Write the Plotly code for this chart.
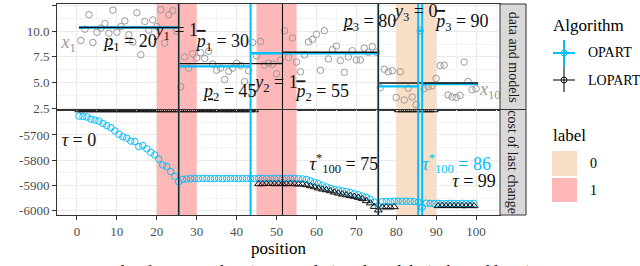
import plotly.graph_objects as go
from plotly.subplots import make_subplots

FONT = "Liberation Serif"
BLUE = "#00BFFF"
BLACK = "#111111"
GREY_PT = "#9A9A9A"
PINK = "#FFB8B8"
PEACH = "#F9DEC7"

# ---------------- data ----------------
positions = list(range(1, 101))
data_values = [9.1, 10.2, 11.6, 8.9, 9.9, 10.3, 10.75, 9.8, 12.05, 9.9,
               10.45, 11.0, 9.65, 8.95, 11.8, 7.7, 10.95, 10.1, 11.1, 10.45,
               12.1, 8.85, 11.6, 12.0, 10.0, 4.6, 7.5, 6.4, 7.8, 7.4,
               7.9, 7.35, 8.05, 6.8, 6.2, 6.4, 5.3, 6.1, 6.4, 6.9,
               6.65, 5.1, 6.15, 8.9, 7.6, 9.0, 6.7, 6.9, 6.8, 5.85,
               7.2, 10.05, 7.45, 9.35, 7.0, 6.05, 7.7, 8.95, 9.2, 9.7,
               6.2, 10.05, 7.3, 8.2, 8.55, 7.15, 6.0, 7.5, 8.1, 7.2,
               7.2, 8.35, 7.95, 8.5, 7.95, 4.5, 6.3, 6.05, 6.15, 3.55,
               6.05, 3.3, 4.45, 3.6, 2.85, 10.05, 4.4, 4.6, 4.7, 5.4,
               6.65, 6.7, 3.8, 3.6, 3.55, 3.75, 7.0, 5.1, 4.3, 4.4]

label_start = [20, 45, 80]
label_end = [30, 55, 90]
label_value = ["1", "1", "0"]
label_fill = {"0": PEACH, "1": PINK}

opart_seg_start = [0.5, 25.5, 43.5, 75.5, 85.5, 86.5]
opart_seg_end = [25.5, 43.5, 75.5, 85.5, 86.5, 100.5]
opart_seg_mean = [10.36, 6.58, 7.85, 4.63, 10.05, 4.86]
lopart_seg_start = [0.5, 25.5, 51.5, 75.5]
lopart_seg_end = [25.5, 51.5, 75.5, 100.5]
lopart_seg_mean = [10.36, 6.85, 7.95, 4.96]

opart_changes = [25.5, 43.5, 75.5, 85.5, 86.5]
lopart_changes = [25.5, 51.5, 75.5]

tau = list(range(100))
opart_cost = [-5625, -5627, -5629, -5637, -5641, -5645, -5654, -5663, -5671, -5684,
              -5697, -5707, -5713, -5724, -5726, -5746, -5742, -5755, -5769, -5779,
              -5795, -5819, -5825, -5845, -5864, -5885, -5876, -5874, -5873, -5872,
              -5873, -5872, -5872, -5873, -5872, -5872, -5873, -5872, -5872, -5872,
              -5873, -5872, -5872, -5872, -5873, -5872, -5872, -5872, -5873, -5872,
              -5872, -5872, -5873, -5872, -5872, -5873, -5874, -5876, -5882, -5888,
              -5893, -5900, -5906, -5912, -5916, -5918, -5922, -5924, -5928, -5933,
              -5937, -5942, -5947, -5955, -5966, -5980, -5964, -5963, -5964, -5962,
              -5962, -5963, -5962, -5963, -5964, -5966, -5986, -5970, -5971, -5972,
              -5971, -5972, -5972, -5971, -5972, -5972, -5971, -5972, -5972, -5971]
TOP_ROW = -5601  # infeasible changes drawn at the panel top
lopart_cost = ([TOP_ROW] * 45 +
               [-5894, -5894, -5893, -5893, -5894, -5893, -5894, -5894, -5893, -5894, -5895, -5895] +
               [-5898, -5902, -5906, -5911, -5915, -5918, -5922, -5927, -5931, -5935,
                -5938, -5941, -5944, -5948, -5953, -5961, -5970, -5984, -5998] +
               [-5986, -5985, -5986, -5985] +
               [TOP_ROW] * 10 +
               [-5981, -5980, -5981, -5980, -5981, -5980, -5981, -5981, -5980, -5981])
cost_position = [t + 0.5 for t in tau]

x_ticks = list(range(0, 101, 10))
top_ticks = [2.5, 5.0, 7.5, 10.0, 12.5]
top_tick_text = ["2.5", "5.0", "7.5", "10.0", "12.5"]
bottom_ticks = [-6000, -5900, -5800, -5700]
bottom_tick_text = ["-6000", "-5900", "-5800", "-5700"]

PBAR = '<span style="text-decoration:overline"><i>p</i></span>'
PUND = '<u><i>p</i></u>'
top_labels = [
    ("<i>x</i><sub>1</sub>", -0.3, 8.8, "middle left", GREY_PT),
    ("<i>x</i><sub>100</sub>", 101.0, 4.22, "middle right", GREY_PT),
    (PUND + "<sub>1</sub> = 20", 20, 8.9, "middle left", BLACK),
    ("<i>y</i><sub>1</sub> = 1", 25, 9.97, "middle center", BLACK),
    (PBAR + "<sub>1</sub> = 30", 30, 8.9, "middle right", BLACK),
    (PUND + "<sub>2</sub> = 45", 45, 4.0, "middle left", BLACK),
    ("<i>y</i><sub>2</sub> = 1", 50, 4.9, "middle center", BLACK),
    (PBAR + "<sub>2</sub> = 55", 55, 4.0, "middle right", BLACK),
    (PUND + "<sub>3</sub> = 80", 80, 10.85, "middle left", BLACK),
    ("<i>y</i><sub>3</sub> = 0", 85, 11.8, "middle center", BLACK),
    (PBAR + "<sub>3</sub> = 90", 90, 10.85, "middle right", BLACK),
]
bottom_labels = [
    ("<i>τ</i> = 0", 0.5, -5727, "middle center", BLACK),
    ("<i>τ</i><sup>*</sup><sub>100</sub> = 75", 75.5, -5819, "middle left", BLACK),
    ("<i>τ</i><sup>*</sup><sub>100</sub> = 86", 86.5, -5819, "middle right", BLUE),
    ("<i>τ</i> = 99", 99.5, -5889, "middle center", BLACK),
]

X_RANGE = [-5.0, 106.0]
TOP_RANGE = [2.38, 12.65]
BOTTOM_RANGE = [-6017, -5599]

# ---------------- figure ----------------
fig = make_subplots(rows=2, cols=1, shared_xaxes=True, vertical_spacing=0)

# label regions in both panels (filled polygons spanning each panel)
for s, e, v in zip(label_start, label_end, label_value):
    for r, (lo, hi) in ((1, TOP_RANGE), (2, BOTTOM_RANGE)):
        fig.add_trace(go.Scatter(x=[s, e, e, s, s], y=[lo, lo, hi, hi, lo], mode="lines",
                                 fill="toself", fillcolor=label_fill[v], line=dict(width=0),
                                 showlegend=False, hoverinfo="skip"), row=r, col=1)

# data points
fig.add_trace(go.Scatter(x=positions, y=data_values, mode="markers",
                         marker=dict(symbol="circle-open", size=6.5, color=GREY_PT,
                                     line=dict(width=1, color=GREY_PT)),
                         showlegend=False, hoverinfo="skip"), row=1, col=1)


def seg_xy(starts, ends, means):
    xs, ys = [], []
    for s, e, m in zip(starts, ends, means):
        xs += [s, e, None]
        ys += [m, m, None]
    return xs, ys


ox, oy = seg_xy(opart_seg_start, opart_seg_end, opart_seg_mean)
lx, ly = seg_xy(lopart_seg_start, lopart_seg_end, lopart_seg_mean)
fig.add_trace(go.Scatter(x=ox, y=oy, mode="lines", line=dict(color=BLUE, width=2.4),
                         showlegend=False, hoverinfo="skip"), row=1, col=1)
fig.add_trace(go.Scatter(x=lx, y=ly, mode="lines", line=dict(color=BLACK, width=1.4),
                         showlegend=False, hoverinfo="skip"), row=1, col=1)

# cost of last change
fig.add_trace(go.Scatter(x=cost_position, y=opart_cost, mode="markers",
                         marker=dict(symbol="circle-open", size=6.5, color=BLUE,
                                     line=dict(width=1, color=BLUE)),
                         showlegend=False, hoverinfo="skip"), row=2, col=1)
fig.add_trace(go.Scatter(x=cost_position, y=lopart_cost, mode="markers",
                         marker=dict(symbol="triangle-up-open", size=7, color=BLACK,
                                     line=dict(width=1, color=BLACK)),
                         showlegend=False, hoverinfo="skip"), row=2, col=1)

# changepoint vertical lines (both panels)
for cps, col, w in ((opart_changes, BLUE, 2.0), (lopart_changes, BLACK, 1.1)):
    vx = []
    for c in cps:
        vx += [c, c, None]
    for r, (lo, hi) in ((1, TOP_RANGE), (2, BOTTOM_RANGE)):
        vy = []
        for c in cps:
            vy += [lo, hi, None]
        fig.add_trace(go.Scatter(x=vx, y=vy, mode="lines", line=dict(color=col, width=w),
                                 showlegend=False, hoverinfo="skip"), row=r, col=1)

# text labels
for labels, r in ((top_labels, 1), (bottom_labels, 2)):
    for t, x, y, pos, col in labels:
        fig.add_trace(go.Scatter(x=[x], y=[y], mode="text", text=[t], textposition=pos,
                                 textfont=dict(family=FONT, size=18, color=col),
                                 showlegend=False, hoverinfo="skip", cliponaxis=True),
                      row=r, col=1)

# ---------------- axes ----------------
grid_major = "#EBEBEB"
grid_minor = "#F4F4F4"
axis_common = dict(showline=True, mirror=True, linecolor="#333333", linewidth=1,
                   gridcolor=grid_major, gridwidth=1, zeroline=False,
                   tickfont=dict(family=FONT, size=13, color="#4D4D4D"),
                   tickcolor="#333333", ticklen=4, tickwidth=1)
minor_x = dict(tickmode="array", tickvals=list(range(5, 106, 10)), showgrid=True,
               gridcolor=grid_minor, gridwidth=0.6, ticks="")
fig.update_xaxes(**axis_common, range=X_RANGE, tickmode="array", tickvals=x_ticks, minor=minor_x)
fig.update_xaxes(showticklabels=False, ticks="", row=1, col=1)
fig.update_xaxes(ticks="outside", row=2, col=1,
                 title=dict(text="position", font=dict(family=FONT, size=17, color="#000000"),
                            standoff=4))
fig.update_yaxes(**axis_common, ticks="outside")
fig.update_yaxes(range=TOP_RANGE, tickmode="array", tickvals=top_ticks, ticktext=top_tick_text,
                 minor=dict(tickmode="array", tickvals=[3.75, 6.25, 8.75, 11.25], showgrid=True,
                            gridcolor=grid_minor, gridwidth=0.6, ticks=""),
                 row=1, col=1)
fig.update_yaxes(range=BOTTOM_RANGE, tickmode="array", tickvals=bottom_ticks,
                 ticktext=bottom_tick_text,
                 minor=dict(tickmode="array", tickvals=[-5950, -5850, -5750, -5650], showgrid=True,
                            gridcolor=grid_minor, gridwidth=0.6, ticks=""),
                 row=2, col=1)

# ---------------- strips & legend (paper coords) ----------------
L, R, T, B = 57, 140, 4, 51
PW, PH = 640 - L - R, 266 - T - B


def px(xp):
    return (xp - L) / PW


def py(yp):
    return (266 - B - yp) / PH


shapes = []
annotations = []
for y0, y1, txt in ((0.5, 1.0, "data and models"), (0.0, 0.5, "cost of last change")):
    shapes.append(dict(type="rect", xref="paper", yref="paper", x0=1.0, x1=px(526),
                       y0=y0, y1=y1, fillcolor="#D9D9D9", line=dict(color="#333333", width=1)))
    annotations.append(dict(xref="paper", yref="paper", x=(1.0 + px(526)) / 2, y=(y0 + y1) / 2,
                            xanchor="center", yanchor="middle",
                            text=txt, textangle=90, showarrow=False,
                            font=dict(family=FONT, size=14, color="#1A1A1A")))

legend_font = dict(family=FONT, size=14, color="#000000")
annotations.append(dict(xref="paper", yref="paper", x=px(551), y=py(25), xanchor="left",
                        yanchor="middle", text="Algorithm", showarrow=False,
                        font=dict(family=FONT, size=17, color="#000000")))
for cy, ytop, ybot, name, col, w in ((53, 40, 66, "OPART", BLUE, 2.0),
                                     (80, 66, 92, "LOPART", BLACK, 1.1)):
    shapes.append(dict(type="line", xref="paper", yref="paper", x0=px(564), x1=px(564),
                       y0=py(ytop), y1=py(ybot), line=dict(color=col, width=w)))
    shapes.append(dict(type="line", xref="paper", yref="paper", x0=px(553), x1=px(575),
                       y0=py(cy), y1=py(cy), line=dict(color=col, width=w)))
    shapes.append(dict(type="circle", xref="paper", yref="paper", x0=px(561), x1=px(567),
                       y0=py(cy + 3), y1=py(cy - 3), line=dict(color=col, width=1)))
    annotations.append(dict(xref="paper", yref="paper", x=px(586), y=py(cy), xanchor="left",
                            yanchor="middle", text=name, showarrow=False, font=legend_font))

annotations.append(dict(xref="paper", yref="paper", x=px(551), y=py(135), xanchor="left",
                        yanchor="middle", text="label", showarrow=False,
                        font=dict(family=FONT, size=17, color="#000000")))
for (y0, y1), v in (((151, 176), "0"), ((178, 202), "1")):
    shapes.append(dict(type="rect", xref="paper", yref="paper", x0=px(552), x1=px(577),
                       y0=py(y1), y1=py(y0), fillcolor=label_fill[v], line=dict(width=0)))
    annotations.append(dict(xref="paper", yref="paper", x=px(588), y=py((y0 + y1) / 2),
                            xanchor="left", yanchor="middle", text=v, showarrow=False,
                            font=legend_font))

# caption (cut off at the bottom of the image)
annotations.append(dict(xref="paper", yref="paper", x=px(0), y=py(259.5), xanchor="left",
                        yanchor="top", showarrow=False,
                        text="Figure 2:  Example of N = 100 data (grey circles) and models (coloured lines)",
                        font=dict(family=FONT, size=17, color="#000000")))

fig.update_layout(width=640, height=266, margin=dict(l=L, r=R, t=T, b=B),
                  paper_bgcolor="white", plot_bgcolor="white", showlegend=False,
                  shapes=shapes, annotations=annotations,
                  font=dict(family=FONT))

fig.write_html("out.html", config={"displayModeBar": False},
               post_script="document.body.style.margin='0';document.body.style.padding='0';")
